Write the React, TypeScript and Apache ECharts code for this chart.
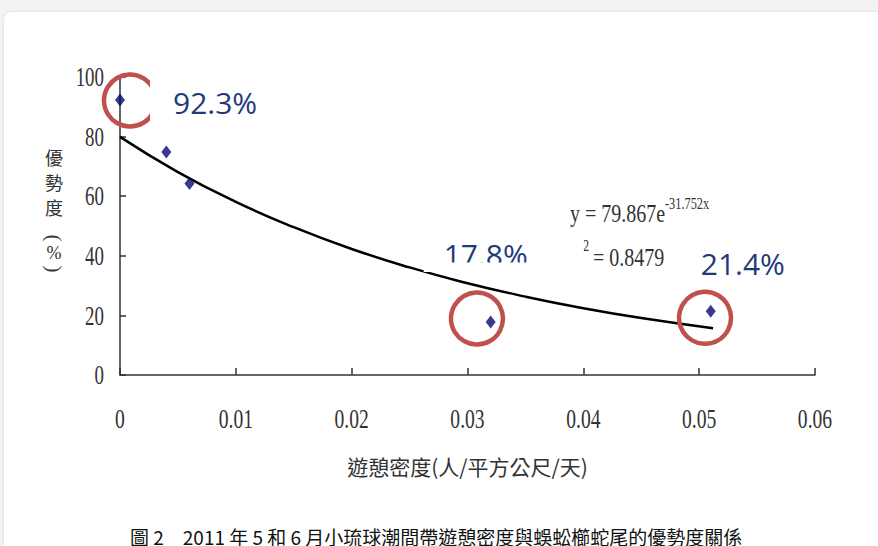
import React, { useEffect, useRef } from "react";
import * as echarts from "echarts";

// Observed points: recreation density vs. dominance (%)
const densities = [0, 0.004, 0.006, 0.032, 0.051];
const dominance = [92.3, 74.8, 64.3, 17.8, 21.4];

// Fitted exponential trend line
const fitX = [0, 0.005, 0.01, 0.015, 0.02, 0.025, 0.03, 0.035, 0.04, 0.045, 0.0512];
const fitY = [79.9, 68.1, 58.1, 49.6, 42.3, 36.1, 30.8, 26.3, 22.4, 19.1, 15.7];

const xTicks = [0, 0.01, 0.02, 0.03, 0.04, 0.05, 0.06];
const xTickLabels = ["0", "0.01", "0.02", "0.03", "0.04", "0.05", "0.06"];
const yTicks = [0, 20, 40, 60, 80, 100];
const yTickLabels = ["0", "20", "40", "60", "80", "100"];

// Highlighted points (indices into the arrays above) and their callouts
const highlightIdx = [0, 3, 4];
const highlightLabels = ["92.3%", "17.8%", "21.4%"];

const xTitle = "遊憩密度(人/平方公尺/天)";
const yTitleChars = ["優", "勢", "度", "(", "%", ")"];
const equationMain = "y = 79.867e";
const equationExp = "-31.752x";
const rSquaredLabel = "R";
const rSquaredExp = "2";
const rSquaredValue = "= 0.8479";
const caption = "圖 2　2011 年 5 和 6 月小琉球潮間帶遊憩密度與蜈蚣櫛蛇尾的優勢度關係";

const SERIF = '"Liberation Serif", "DejaVu Serif", serif';
const CJK = '"Noto Sans CJK TC", "Noto Sans CJK SC", sans-serif';
const SANS = '"Open Sans", "Noto Sans", sans-serif';

export default function App() {
  const ref = useRef<HTMLDivElement>(null);

  useEffect(() => {
    const el = ref.current;
    if (!el) return;
    const chart = echarts.init(el, null, { renderer: "svg" });
    const axisColor = "#333333";
    const textColor = "#333333";
    const blue = "#1F3A7A";
    const red = "#C0504D";

    chart.setOption({
      animation: false,
      grid: { left: 120, right: 63, top: 77, bottom: 171, containLabel: false },
      xAxis: {
        type: "value",
        min: 0,
        max: 0.06,
        interval: 0.01,
        axisLine: { show: true, onZero: false, lineStyle: { color: axisColor, width: 1.5 } },
        axisTick: { show: true, inside: true, length: 7, lineStyle: { color: axisColor, width: 1.5 } },
        axisLabel: { show: false },
        splitLine: { show: false },
      },
      yAxis: {
        type: "value",
        min: 0,
        max: 100,
        interval: 20,
        axisLine: { show: true, lineStyle: { color: axisColor, width: 1.5 } },
        axisTick: { show: true, inside: true, length: 6, lineStyle: { color: axisColor, width: 1.5 } },
        axisLabel: { show: false },
        splitLine: { show: false },
      },
      series: [
        {
          type: "line",
          data: fitX.map((x, i) => [x, fitY[i]]),
          smooth: true,
          symbol: "none",
          showSymbol: false,
          lineStyle: { color: "#000000", width: 2.5 },
          z: 2,
        },
        {
          type: "scatter",
          data: densities.map((x, i) => [x, dominance[i]]),
          symbol: "diamond",
          symbolSize: [10, 13],
          itemStyle: { color: "#0A0A6E" },
          z: 3,
        },
      ],
    });

    const toPx = (x: number, y: number) =>
      chart.convertToPixel({ xAxisIndex: 0, yAxisIndex: 0 }, [x, y]) as number[];

    const g: any[] = [];

    // tick labels (condensed serif)
    xTicks.forEach((v, i) => {
      const p = toPx(v, 0);
      g.push({
        type: "text",
        x: p[0],
        y: p[1] + 43,
        scaleX: 0.7,
        z: 100,
        style: { text: xTickLabels[i], fill: textColor, font: `28px ${SERIF}`, align: "center", verticalAlign: "middle" },
      });
    });
    yTicks.forEach((v, i) => {
      const p = toPx(0, v);
      g.push({
        type: "text",
        x: p[0] - 16,
        y: p[1],
        scaleX: 0.7,
        z: 100,
        style: { text: yTickLabels[i], fill: textColor, font: `27px ${SERIF}`, align: "right", verticalAlign: "middle" },
      });
    });

    // axis titles
    const o = toPx(0, 0);
    const e = toPx(0.06, 100);
    g.push({
      type: "text",
      x: (o[0] + e[0]) / 2,
      y: o[1] + 91,
      z: 100,
      style: { text: xTitle, fill: textColor, font: `21px ${CJK}`, align: "center", verticalAlign: "middle" },
    });
    const yTitleOffsets = [157, 182, 207, 238, 253, 269];
    yTitleChars.forEach((ch, i) => {
      const isParen = ch === "(" || ch === ")";
      g.push({
        type: "text",
        x: 54,
        y: yTitleOffsets[i],
        rotation: isParen ? -Math.PI / 2 : 0,
        z: 100,
        style: {
          text: ch,
          fill: textColor,
          font: isParen ? `21px ${SERIF}` : ch === "%" ? `18px ${SERIF}` : `18px ${CJK}`,
          align: "center",
          verticalAlign: "middle",
        },
      });
    });

    // callouts for highlighted points
    const circleOffsets = [
      [10, 0.6],
      [-13.7, -3.4],
      [-5.7, 6.6],
    ];
    const labelOffsets = [
      [53, 2.6],
      [-47, -67],
      [-10, -48],
    ];
    highlightIdx.forEach((idx, k) => {
      const p = toPx(densities[idx], dominance[idx]);
      g.push({
        type: "circle",
        z: 100,
        shape: { cx: p[0] + circleOffsets[k][0], cy: p[1] + circleOffsets[k][1], r: 26 },
        style: { fill: "none", stroke: red, lineWidth: 4.5 },
      });
      if (k === 0) {
        g.push({
          type: "rect",
          z: 101,
          shape: { x: p[0] + 30, y: p[1] - 28, width: 115, height: 60 },
          style: { fill: "#ffffff" },
        });
      }
      if (k === 1) {
        g.push({
          type: "rect",
          z: 101,
          shape: { x: p[0] - 67, y: p[1] - 86, width: 160, height: 36 },
          style: { fill: "#ffffff" },
        });
      }
      g.push({
        type: "text",
        x: p[0] + labelOffsets[k][0],
        y: p[1] + labelOffsets[k][1],
        z: 102,
        style: { text: highlightLabels[k], fill: blue, font: `30px ${SANS}`, align: "left", verticalAlign: "middle" },
      });
      if (k === 1) {
        g.push({
          type: "rect",
          z: 103,
          shape: { x: p[0] - 52, y: p[1] - 59.5, width: 96, height: 9 },
          style: { fill: "#ffffff" },
        });
      }
    });

    // regression equation
    g.push({
      type: "text",
      x: 570,
      y: 213,
      scaleX: 0.77,
      z: 102,
      style: { text: equationMain, fill: textColor, font: `26px ${SERIF}`, align: "left", verticalAlign: "middle" },
    });
    g.push({
      type: "text",
      x: 665,
      y: 203,
      scaleX: 0.77,
      z: 102,
      style: { text: equationExp, fill: textColor, font: `16px ${SERIF}`, align: "left", verticalAlign: "middle" },
    });
    g.push({
      type: "text",
      x: 582,
      y: 257,
      scaleX: 0.77,
      z: 100,
      style: { text: rSquaredLabel, fill: textColor, font: `26px ${SERIF}`, align: "right", verticalAlign: "middle" },
    });
    g.push({
      type: "text",
      x: 583,
      y: 245,
      scaleX: 0.77,
      z: 100,
      style: { text: rSquaredExp, fill: textColor, font: `16px ${SERIF}`, align: "left", verticalAlign: "middle" },
    });
    g.push({
      type: "text",
      x: 593,
      y: 257,
      scaleX: 0.77,
      z: 102,
      style: { text: rSquaredValue, fill: textColor, font: `26px ${SERIF}`, align: "left", verticalAlign: "middle" },
    });

    // figure caption (cut at the bottom of the picture, as in the reference)
    g.push({
      type: "text",
      x: 130,
      y: 527,
      z: 100,
      style: { text: caption, fill: "#111111", font: `19px ${CJK}`, align: "left", verticalAlign: "top" },
    });

    chart.setOption({ graphic: g });

    return () => chart.dispose();
  }, []);

  return (
    <div
      style={{
        position: "fixed",
        left: 0,
        top: 0,
        width: 878,
        height: 546,
        background: "#f3f3f3",
        overflow: "hidden",
      }}
    >
      <div
        style={{
          position: "absolute",
          left: 4,
          top: 12,
          right: 0,
          bottom: 0,
          background: "#ffffff",
          borderTopLeftRadius: 8,
          boxShadow: "0 0 3px rgba(0,0,0,0.12)",
        }}
      />
      <div ref={ref} style={{ position: "absolute", left: 0, top: 0, width: 878, height: 546 }} />
    </div>
  );
}
